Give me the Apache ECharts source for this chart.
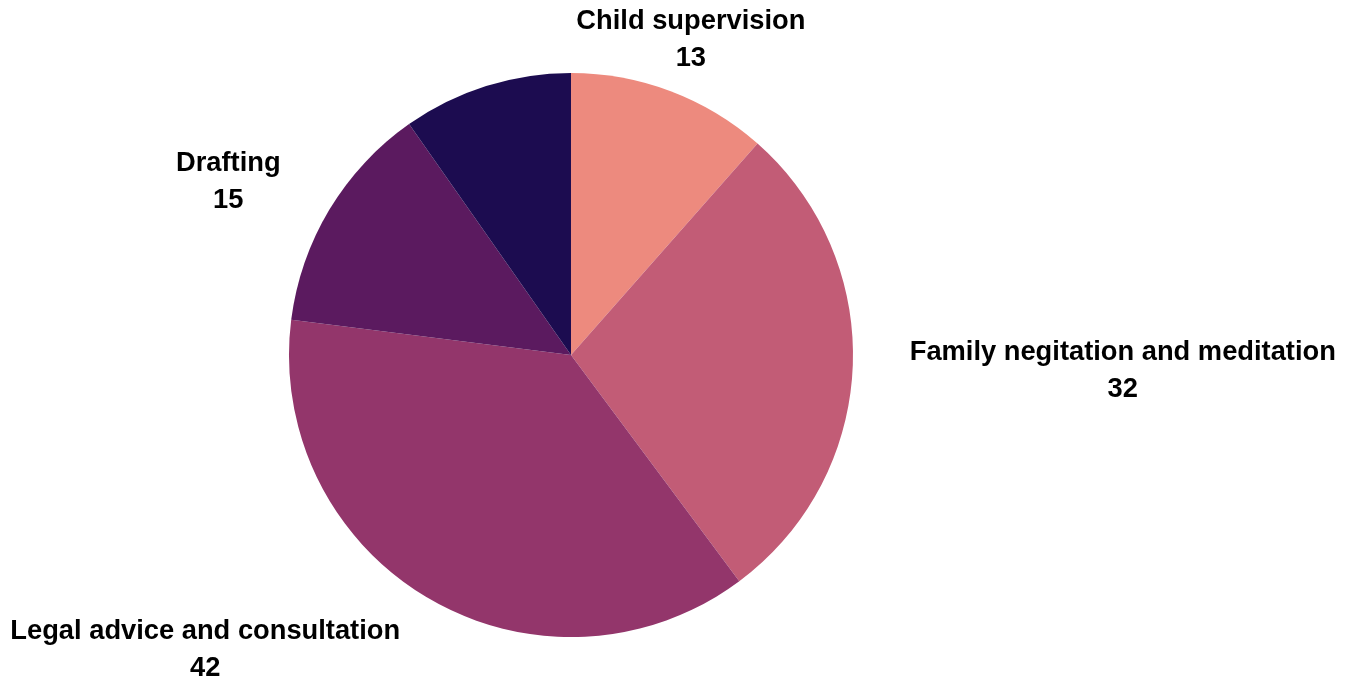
<!DOCTYPE html>
<html>
<head>
<meta charset="utf-8">
<script src="https://cdn.jsdelivr.net/npm/echarts@6/dist/echarts.min.js"></script>
<style>
  html, body { margin: 0; padding: 0; background: #ffffff; }
  #chart { width: 1347px; height: 682px; }
</style>
</head>
<body>
<div id="chart"></div>
<script>
// Services delivered, by category
const categories = ['Child supervision', 'Family negitation and meditation', 'Legal advice and consultation', 'Drafting', 'Other'];
const values = [13, 32, 42, 15, 11];
const sliceColors = ['#ED8A7E', '#C25C76', '#93366B', '#5B1A5F', '#1C0C50'];
const showLabel = [true, true, true, true, false];

const chart = echarts.init(document.getElementById('chart'), null, { renderer: 'canvas' });

const data = categories.map((name, i) => ({
  name: name,
  value: values[i],
  itemStyle: { color: sliceColors[i] },
  label: { show: showLabel[i] },
  labelLine: { show: false }
}));

// centre each line inside its label block; labels near the top of the
// pie are centred on their anchor point instead of starting from it
function layoutLabel(params) {
  const rect = params.labelRect;
  const pts = params.labelLinePoints;
  let nearTop = false;
  if (pts && pts.length >= 2) {
    const dx = pts[1][0] - pts[0][0];
    const dy = pts[1][1] - pts[0][1];
    const len = Math.sqrt(dx * dx + dy * dy) || 1;
    nearTop = Math.abs(dx / len) < 0.5;
  }
  let x;
  if (nearTop) {
    x = params.align === 'right' ? rect.x + rect.width : rect.x;
  } else {
    x = rect.x + rect.width / 2;
  }
  return { x: x, y: rect.y + rect.height / 2 + 2, align: 'center', verticalAlign: 'middle' };
}

chart.setOption({
  animation: false,
  series: [{
    type: 'pie',
    center: [571, 355],
    radius: 282,
    startAngle: 90,
    clockwise: true,
    avoidLabelOverlap: false,
    data: data,
    label: {
      position: 'outside',
      formatter: '{b}\n{c}',
      fontFamily: '"Liberation Sans", Arial, sans-serif',
      fontWeight: 'bold',
      fontSize: 27.3,
      lineHeight: 37,
      color: '#000000',
      distanceToLabelLine: 0
    },
    labelLine: { show: false, length: 57, length2: 0 },
    labelLayout: layoutLabel,
    emphasis: { disabled: true }
  }]
});
</script>
</body>
</html>
